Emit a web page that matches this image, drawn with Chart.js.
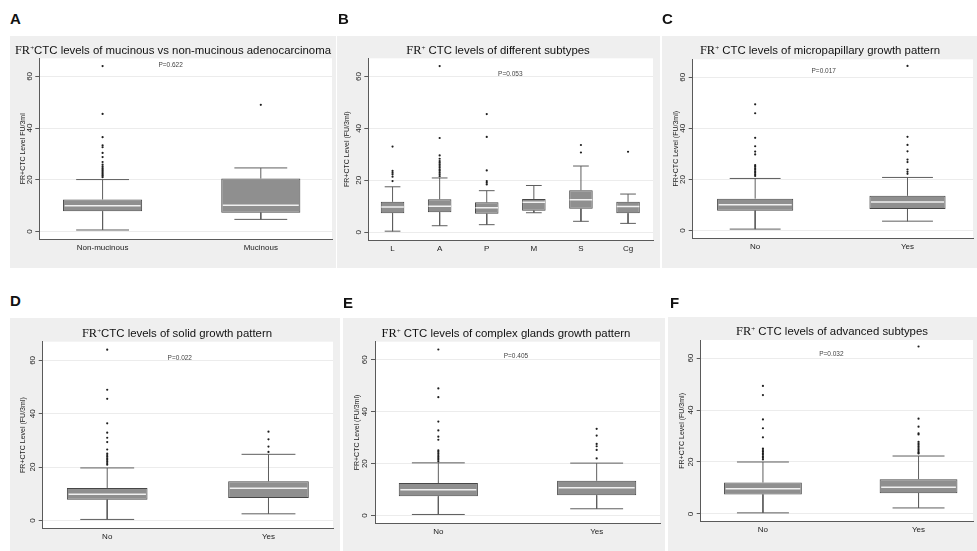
<!DOCTYPE html>
<html>
<head>
<meta charset="utf-8">
<script src="https://cdn.jsdelivr.net/npm/chart.js@4.4.0/dist/chart.umd.min.js"></script>
<style>
  body { margin: 0; width: 977px; height: 551px; overflow: hidden; background: #fff; position: relative; }
  .panel { position: absolute; background: #efefef; }
  .panel canvas { position: absolute; left: 0; top: 0; }
  .letter { position: absolute; font: bold 15px/15px "Liberation Sans", Arial, sans-serif; color: #111; }
  .title { position: absolute; width: 400px; text-align: center; white-space: nowrap;
           font: 11.4px/11px "Liberation Sans", Arial, sans-serif; color: #111; }
  .title .fr { font-family: "Liberation Serif", "Times New Roman", serif; font-size: 12.4px; }
  .title sup { font-size: 7px; line-height: 0; vertical-align: 4px; }
</style>
</head>
<body>
<script>
// ---- data: box statistics (FR+ CTC level, FU/3ml) ----
const yTicks = [0, 20, 40, 60];

// A: mucinous vs non-mucinous
const catsA = ['Non-mucinous', 'Mucinous'];
const lowA  = [0.6, 4.7];
const q1A   = [7.8, 7.3];
const medA  = [10.0, 10.2];
const q3A   = [12.4, 20.5];
const highA = [20.1, 24.6];
const outA  = [[64, 45.5, 36.5, 33.3, 32.6, 30.4, 28.8, 26.9, 25.9, 25.2, 24.5, 24, 23.5, 23, 22.5, 22, 21.5, 21], [49]];

// B: subtypes
const catsB = ['L', 'A', 'P', 'M', 'S', 'Cg'];
const lowB  = [0.4, 2.5, 2.9, 7.5, 4.2, 3.4];
const q1B   = [7.3, 7.7, 7.1, 8.3, 9.0, 7.3];
const medB  = [9.7, 10.0, 9.4, 11.5, 12.5, 9.9];
const q3B   = [11.7, 12.7, 11.5, 12.8, 16.2, 11.7];
const highB = [17.5, 20.9, 16.0, 18.0, 25.5, 14.7];
const outB  = [
  [33, 23.6, 22.9, 22.3, 21.4, 19.7],
  [64, 36.3, 29.6, 28.3, 27.4, 26.8, 26.1, 25.5, 24.9, 24.2, 23.6, 22.9, 22.3, 21.6],
  [45.5, 36.7, 23.8, 19.7, 19.1, 18.4],
  [],
  [33.6, 30.7],
  [31]
];

// C: micropapillary
const catsC = ['No', 'Yes'];
const lowC  = [0.6, 3.7];
const q1C   = [7.8, 8.5];
const medC  = [10.1, 11.2];
const q3C   = [12.5, 13.6];
const highC = [20.4, 20.8];
const outC  = [
  [49.4, 45.9, 36.3, 33, 30.9, 29.8, 25.6, 25, 24.4, 23.8, 23.2, 22.6, 22, 21.4],
  [64.4, 36.7, 33.5, 31, 27.8, 26.8, 23.9, 23, 22.2]
];

// D: solid
const catsD = ['No', 'Yes'];
const lowD  = [0.4, 2.5];
const q1D   = [7.8, 8.4];
const medD  = [9.8, 12.1];
const q3D   = [12.2, 14.7];
const highD = [19.7, 24.8];
const outD  = [
  [64, 49, 45.6, 36.4, 32.9, 31, 29.4, 26.6, 25.1, 24.5, 23.9, 23.3, 22.7, 22.1, 21.5, 20.9],
  [33.3, 30.4, 27.7, 25.7]
];

// E: complex glands
const catsE = ['No', 'Yes'];
const lowE  = [0.4, 2.6];
const q1E   = [7.4, 7.8];
const medE  = [9.9, 10.7];
const q3E   = [12.5, 13.4];
const highE = [20.3, 20.2];
const outE  = [
  [64, 49, 45.6, 36.2, 32.8, 30.4, 29.2, 25.1, 24.5, 23.9, 23.3, 22.7, 22.1, 21.5, 20.9],
  [33.4, 30.8, 27.6, 26.7, 25.3, 22]
];

// F: advanced subtypes
const catsF = ['No', 'Yes'];
const lowF  = [0.4, 2.3];
const q1F   = [7.5, 8.0];
const medF  = [9.7, 10.3];
const q3F   = [12.1, 13.4];
const highF = [20.0, 22.3];
const outF  = [
  [49.3, 45.8, 36.4, 33, 29.5, 25.2, 24.6, 24, 23.4, 22.8, 22.2, 21.6, 21],
  [64.5, 36.7, 33.6, 31, 30.6, 27.8, 27.2, 26.6, 26, 25.4, 24.8, 24.2, 23.6, 23.3]
];

const pTexts = ['P=0.622', 'P=0.053', 'P=0.017', 'P=0.022', 'P=0.405', 'P=0.032'];

// ---- layout ----
const BOX_HALF = 0.25;
const CAP_HALF = 0.167;
const Y_MIN = -3, Y_MAX = 67;

const panels = [
  { letter: 'A', cats: catsA, low: lowA, q1: q1A, med: medA, q3: q3A, high: highA, out: outA, p: pTexts[0], pAt: [0.43, 64.3],
    title: '<span class="fr">FR<sup>+</sup></span>CTC levels of mucinous vs non-mucinous adenocarcinoma',
    yTitle: 'FR+CTC Level FU/3ml',
    bg: [10, 36, 336, 268], plot: [39.3, 58.3, 334, 239.3], xRange: [-0.40, 1.45],
    letterAt: [10, 11.3], titleAt: [173, 45], yTitlePad: 8.5 },
  { letter: 'B', cats: catsB, low: lowB, q1: q1B, med: medB, q3: q3B, high: highB, out: outB, p: pTexts[1], pAt: [2.5, 60.9],
    title: '<span class="fr">FR<sup>+</sup></span> CTC levels of different subtypes',
    yTitle: 'FR+CTC Level (FU/3ml)',
    bg: [337, 36, 660, 268], plot: [368.3, 58.3, 653, 240], xRange: [-0.515, 5.53],
    letterAt: [338, 11.3], titleAt: [498, 45], yTitlePad: 5.5 },
  { letter: 'C', cats: catsC, low: lowC, q1: q1C, med: medC, q3: q3C, high: highC, out: outC, p: pTexts[2], pAt: [0.45, 62.5],
    title: '<span class="fr">FR<sup>+</sup></span> CTC levels of micropapillary growth pattern',
    yTitle: 'FR+CTC Level (FU/3ml)',
    bg: [662, 36, 977, 268], plot: [692.7, 59.3, 977, 238.3], xRange: [-0.41, 1.43],
    letterAt: [662, 11.3], titleAt: [820, 45], yTitlePad: 9.5 },
  { letter: 'D', cats: catsD, low: lowD, q1: q1D, med: medD, q3: q3D, high: highD, out: outD, p: pTexts[3], pAt: [0.45, 60.9],
    title: '<span class="fr">FR<sup>+</sup></span>CTC levels of solid growth pattern',
    yTitle: 'FR+CTC Level (FU/3ml)',
    bg: [10, 318, 340, 551], plot: [42.7, 341.7, 333, 528.5], xRange: [-0.40, 1.40],
    letterAt: [10, 293], titleAt: [177, 327.5], yTitlePad: 8.5 },
  { letter: 'E', cats: catsE, low: lowE, q1: q1E, med: medE, q3: q3E, high: highE, out: outE, p: pTexts[4], pAt: [0.49, 61.3],
    title: '<span class="fr">FR<sup>+</sup></span> CTC levels of complex glands growth pattern',
    yTitle: 'FR+CTC Level (FU/3ml)',
    bg: [343, 318, 665, 551], plot: [375, 341.7, 660, 523.3], xRange: [-0.40, 1.40],
    letterAt: [343, 294.5], titleAt: [506, 327.5], yTitlePad: 10 },
  { letter: 'F', cats: catsF, low: lowF, q1: q1F, med: medF, q3: q3F, high: highF, out: outF, p: pTexts[5], pAt: [0.44, 61.4],
    title: '<span class="fr">FR<sup>+</sup></span> CTC levels of advanced subtypes',
    yTitle: 'FR+CTC Level (FU/3ml)',
    bg: [668, 317, 977, 551], plot: [700.7, 340, 977, 521.7], xRange: [-0.40, 1.35],
    letterAt: [670, 294.5], titleAt: [832, 326], yTitlePad: 10 }
];

Chart.defaults.font.family = '"Liberation Sans", Arial, sans-serif';
Chart.defaults.color = '#222';

// white plot region + the P value note
const panelExtras = {
  id: 'panelExtras',
  beforeDraw(chart) {
    const { ctx, chartArea: a } = chart;
    ctx.save();
    ctx.fillStyle = '#ffffff';
    ctx.fillRect(a.left, a.top, a.right - a.left, a.bottom - a.top);
    ctx.restore();
  },
  afterDatasetsDraw(chart, args, opts) {
    if (!opts.text) return;
    const { ctx, scales } = chart;
    ctx.save();
    ctx.font = '6.5px "Liberation Sans", Arial, sans-serif';
    ctx.fillStyle = '#444';
    ctx.textAlign = 'center';
    ctx.textBaseline = 'middle';
    ctx.fillText(opts.text, scales.x.getPixelForValue(opts.x), scales.y.getPixelForValue(opts.y));
    ctx.restore();
  }
};

function buildPanel(p) {
  const [bl, bt, br, bb] = p.bg;
  const [pl, pt, pr, pb] = p.plot;

  const host = document.createElement('div');
  host.className = 'panel';
  Object.assign(host.style, { left: bl + 'px', top: bt + 'px', width: (br - bl) + 'px', height: (bb - bt) + 'px' });
  const canvas = document.createElement('canvas');
  canvas.width = br - bl;
  canvas.height = bb - bt;
  host.appendChild(canvas);
  document.body.appendChild(host);

  const letter = document.createElement('div');
  letter.className = 'letter';
  letter.textContent = p.letter;
  letter.style.left = p.letterAt[0] + 'px';
  letter.style.top = p.letterAt[1] + 'px';
  document.body.appendChild(letter);

  const title = document.createElement('div');
  title.className = 'title';
  title.innerHTML = p.title;
  title.style.left = (p.titleAt[0] - 200) + 'px';
  title.style.top = p.titleAt[1] + 'px';
  document.body.appendChild(title);

  // whiskers + caps, medians and outliers as point lists in data units
  const whiskers = [];
  const medians = [];
  const outliers = [];
  p.cats.forEach((c, i) => {
    whiskers.push(
      { x: i, y: p.q3[i] }, { x: i, y: p.high[i] }, { x: i, y: null },
      { x: i - CAP_HALF, y: p.high[i] }, { x: i + CAP_HALF, y: p.high[i] }, { x: i, y: null },
      { x: i, y: p.q1[i] }, { x: i, y: p.low[i] }, { x: i, y: null },
      { x: i - CAP_HALF, y: p.low[i] }, { x: i + CAP_HALF, y: p.low[i] }, { x: i, y: null }
    );
    medians.push({ x: i - BOX_HALF + 0.01, y: p.med[i] }, { x: i + BOX_HALF - 0.01, y: p.med[i] }, { x: i, y: null });
    p.out[i].forEach(v => outliers.push({ x: i, y: v }));
  });

  new Chart(canvas, {
    type: 'bar',
    data: {
      datasets: [
        { type: 'scatter', data: outliers, order: 0,
          pointRadius: 1.1, pointBackgroundColor: '#1e1e1e', pointBorderWidth: 0 },
        { type: 'line', data: medians, order: 1,
          borderColor: '#f0f0f0', borderWidth: 1.5, pointRadius: 0, tension: 0 },
        { type: 'bar', data: p.cats.map((c, i) => ({ x: i, y: [p.q1[i], p.q3[i]] })), order: 2,
          backgroundColor: '#8f8f8f', borderColor: '#474747', borderWidth: 1, borderSkipped: false,
          barPercentage: 2 * BOX_HALF, categoryPercentage: 1 },
        { type: 'line', data: whiskers, order: 3,
          borderColor: '#5e5e5e', borderWidth: 1, pointRadius: 0, tension: 0 }
      ]
    },
    options: {
      responsive: false,
      animation: false,
      events: [],
      layout: { padding: { top: pt - bt, right: br - pr, bottom: 0, left: 0 } },
      plugins: {
        legend: { display: false },
        tooltip: { enabled: false },
        panelExtras: { text: p.p, x: p.pAt[0], y: p.pAt[1] }
      },
      scales: {
        x: {
          type: 'linear',
          offset: false,
          min: p.xRange[0],
          max: p.xRange[1],
          afterBuildTicks: s => { s.ticks = p.cats.map((c, i) => ({ value: i })); },
          afterFit: s => { s.height = bb - pb; },
          grid: { display: false, drawTicks: false, offset: false },
          border: { display: true, color: '#5a5a5a', width: 1 },
          ticks: { callback: v => p.cats[v], font: { size: 8 }, color: '#222', padding: 3.5, maxRotation: 0, autoSkip: false }
        },
        y: {
          min: Y_MIN,
          max: Y_MAX,
          afterBuildTicks: s => { s.ticks = yTicks.map(v => ({ value: v })); },
          afterFit: s => { s.width = pl - bl; },
          grid: { color: '#ececec', lineWidth: 1, tickLength: 4, tickColor: '#5a5a5a' },
          border: { display: true, color: '#5a5a5a', width: 1 },
          ticks: { font: { size: 8 }, color: '#222', padding: 1.5, minRotation: 90, maxRotation: 90, crossAlign: 'center' },
          title: { display: true, text: p.yTitle, font: { size: 7 }, color: '#222', padding: { top: p.yTitlePad, bottom: 0 } }
        }
      }
    },
    plugins: [panelExtras]
  });
}

panels.forEach(buildPanel);
</script>
</body>
</html>
